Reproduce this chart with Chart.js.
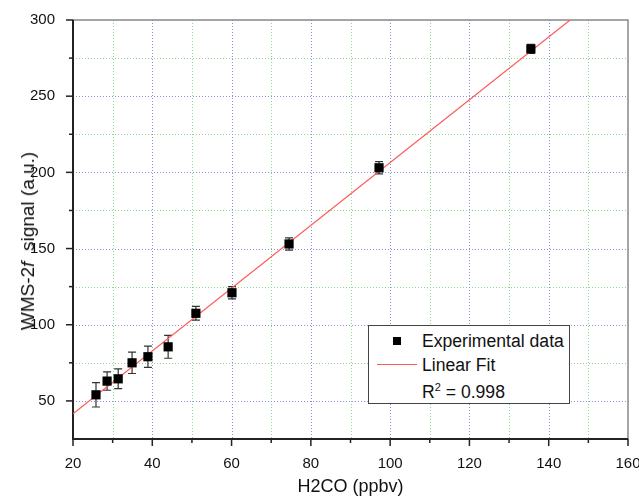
<!DOCTYPE html>
<html><head><meta charset="utf-8">
<script src="https://cdn.jsdelivr.net/npm/chart.js@4.4.0/dist/chart.umd.min.js"></script>
<style>
html,body{margin:0;padding:0;background:#fff;}
#wrap{position:relative;width:639px;height:502px;font-family:"Liberation Sans",Arial,sans-serif;}
#c{position:absolute;left:0;top:0;}
#ytitle{position:absolute;left:28px;top:241px;transform:translate(-50%,-50%) rotate(-90deg);white-space:nowrap;font-size:19px;line-height:20px;color:#111;}
#legend{position:absolute;left:368px;top:325px;width:200px;height:77px;border:1px solid #444;background:#fff;font-size:17.6px;color:#111;}
.li{position:absolute;left:53px;line-height:20px;white-space:nowrap;}
</style></head>
<body><div id="wrap"><canvas id="c" width="639" height="502"></canvas>
<div id="ytitle">WMS-2<i>f</i>&nbsp; signal (a.u.)</div>
<div id="legend">
<div style="position:absolute;left:24px;top:11px;width:8px;height:8px;background:#000"></div>
<div class="li" style="top:5px">Experimental data</div>
<div style="position:absolute;left:8px;top:38px;width:40px;height:1px;background:#ff5a5a"></div>
<div class="li" style="top:29px">Linear Fit</div>
<div class="li" style="top:56px">R<sup style="font-size:11px;vertical-align:7px;line-height:0">2</sup> = 0.998</div>
</div>
</div>
<script>
const concentration = [25.8, 28.6, 31.4, 34.9, 38.9, 44.0, 51.0, 60.1, 74.5, 97.2, 135.5];
const signal = [54, 63, 64.5, 75, 79, 85.5, 107.5, 121, 153, 203, 281];
const errors = [8, 6, 6.5, 7, 7, 7.5, 4.5, 4, 4, 4, 3];
const fitX = [20, 145.4];
const fitY = [41.5, 300];
const xTicks = [20, 40, 60, 80, 100, 120, 140, 160];
const xMinor = [30, 50, 70, 90, 110, 130, 150];
const yTicks = [50, 100, 150, 200, 250, 300];
const yMinor = [75, 125, 175, 225, 275];

const pts = concentration.map((x, i) => ({x, y: signal[i]}));
const fitPts = fitX.map((x, i) => ({x, y: fitY[i]}));

const gridPlugin = {
  id: 'gridPlugin',
  beforeDatasetsDraw(chart) {
    const {ctx, chartArea: a, scales: {x, y}} = chart;
    ctx.save();
    ctx.lineWidth = 1;
    ctx.setLineDash([1, 2]);
    const vline = (v, col) => { const p = Math.round(x.getPixelForValue(v)) + 0.5; ctx.strokeStyle = col; ctx.beginPath(); ctx.moveTo(p, a.top); ctx.lineTo(p, a.bottom); ctx.stroke(); };
    const hline = (v, col) => { const p = Math.round(y.getPixelForValue(v)) + 0.5; ctx.strokeStyle = col; ctx.beginPath(); ctx.moveTo(a.left, p); ctx.lineTo(a.right, p); ctx.stroke(); };
    xMinor.forEach(v => vline(v, '#8fd68f'));
    yMinor.forEach(v => hline(v, '#8fd68f'));
    xTicks.slice(1, -1).forEach(v => vline(v, '#8c8cdc'));
    yTicks.slice(0, -1).forEach(v => hline(v, '#8c8cdc'));
    ctx.setLineDash([]);
    ctx.strokeStyle = '#888';
    ctx.lineWidth = 1.5;
    ctx.beginPath(); ctx.moveTo(a.left, a.top); ctx.lineTo(a.right, a.top); ctx.lineTo(a.right, a.bottom); ctx.stroke();
    ctx.strokeStyle = '#222';
    ctx.lineWidth = 2;
    ctx.beginPath(); ctx.moveTo(a.left, a.top); ctx.lineTo(a.left, a.bottom); ctx.lineTo(a.right, a.bottom); ctx.stroke();
    ctx.lineWidth = 1.5;
    xTicks.forEach(v => { const p = x.getPixelForValue(v); ctx.beginPath(); ctx.moveTo(p, a.bottom); ctx.lineTo(p, a.bottom + 7); ctx.stroke(); });
    xMinor.forEach(v => { const p = x.getPixelForValue(v); ctx.beginPath(); ctx.moveTo(p, a.bottom); ctx.lineTo(p, a.bottom + 4); ctx.stroke(); });
    yTicks.forEach(v => { const p = y.getPixelForValue(v); ctx.beginPath(); ctx.moveTo(a.left, p); ctx.lineTo(a.left - 7, p); ctx.stroke(); });
    yMinor.forEach(v => { const p = y.getPixelForValue(v); ctx.beginPath(); ctx.moveTo(a.left, p); ctx.lineTo(a.left - 4, p); ctx.stroke(); });
    ctx.strokeStyle = '#333';
    ctx.lineWidth = 1.2;
    pts.forEach((p, i) => {
      const px = x.getPixelForValue(p.x);
      const t = y.getPixelForValue(p.y + errors[i]);
      const b = y.getPixelForValue(p.y - errors[i]);
      ctx.beginPath();
      ctx.moveTo(px, t); ctx.lineTo(px, b);
      ctx.moveTo(px - 4, t); ctx.lineTo(px + 4, t);
      ctx.moveTo(px - 4, b); ctx.lineTo(px + 4, b);
      ctx.stroke();
    });
    ctx.restore();
  }
};

new Chart(document.getElementById('c'), {
  type: 'scatter',
  data: {
    datasets: [
      {label: 'Linear Fit', data: fitPts, showLine: true, borderColor: '#ff5a5a', borderWidth: 1.2, pointRadius: 0, order: 2},
      {label: 'Experimental data', data: pts, pointStyle: 'rect', pointRadius: 6.5, backgroundColor: '#000', borderColor: '#000', borderWidth: 0, order: 1}
    ]
  },
  options: {
    responsive: false,
    animation: false,
    events: [],
    layout: {padding: {top: 20, right: 11, left: 0, bottom: 0}},
    plugins: {legend: {display: false}, tooltip: {enabled: false}},
    scales: {
      x: {
        type: 'linear', min: 20, max: 160,
        afterBuildTicks: s => { s.ticks = xTicks.map(v => ({value: v})); },
        afterFit: s => { s.height = 63; s.paddingLeft = 0; s.paddingRight = 0; },
        grid: {display: false},
        border: {display: false},
        ticks: {color: '#111', font: {family: '"Liberation Sans", Arial', size: 15}, padding: 8},
        title: {display: true, text: 'H2CO (ppbv)', color: '#111', font: {family: '"Liberation Sans", Arial', size: 18}, padding: {top: 7}}
      },
      y: {
        type: 'linear', min: 25, max: 300,
        afterBuildTicks: s => { s.ticks = yTicks.map(v => ({value: v})); },
        afterFit: s => { s.width = 73; s.paddingTop = 0; s.paddingBottom = 0; },
        grid: {display: false},
        border: {display: false},
        ticks: {color: '#111', font: {family: '"Liberation Sans", Arial', size: 15}, padding: 10}
      }
    }
  },
  plugins: [gridPlugin]
});
</script></body></html>
